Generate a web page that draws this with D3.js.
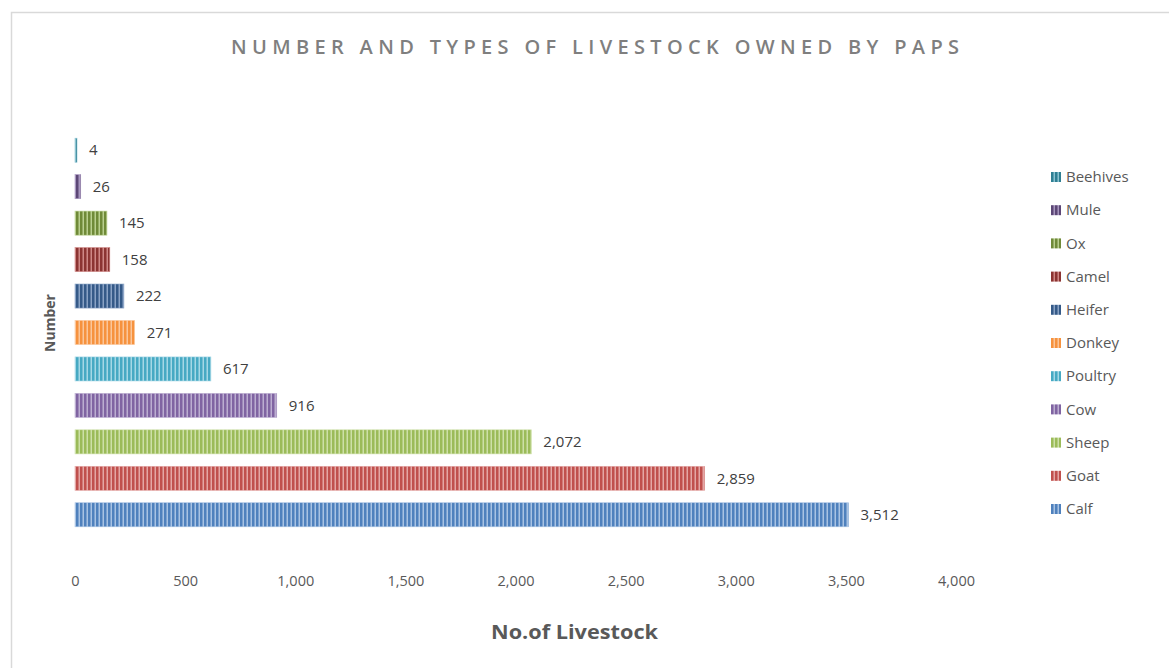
<!DOCTYPE html>
<html>
<head>
<meta charset="utf-8">
<script src="https://cdn.jsdelivr.net/npm/d3@7"></script>
<style>
  html, body { margin: 0; padding: 0; background: #fff; }
  svg { display: block; }
</style>
</head>
<body>
<svg id="chart" width="1169" height="668"></svg>
<script>
// Livestock counts, listed top to bottom as drawn
const categories = ["Beehives", "Mule", "Ox", "Camel", "Heifer", "Donkey", "Poultry", "Cow", "Sheep", "Goat", "Calf"];
const counts = [4, 26, 145, 158, 222, 271, 617, 916, 2072, 2859, 3512];
const xTicks = [0, 500, 1000, 1500, 2000, 2500, 3000, 3500, 4000];
// dark stripe / light stripe colour per category
const darkColors = ["#2f7f93", "#5c4776", "#6f8a38", "#8c3432", "#355a88", "#f6923e", "#46a9c3", "#8064a2", "#9bbb59", "#c0504d", "#4f81bd"];
const lightColors = ["#8cc3d1", "#a897bf", "#b9cf8f", "#cf8886", "#8aa3c5", "#fbc69a", "#a5d8e6", "#bcaed1", "#cde0a8", "#e4a7a5", "#a9c3e3"];

const svg = d3.select("#chart");
const font = "'Open Sans', 'Liberation Sans', sans-serif";

// chart area frame
svg.append("rect")
  .attr("x", 11.5).attr("y", 12.5)
  .attr("width", 1170).attr("height", 670)
  .attr("fill", "#fff").attr("stroke", "#d9d9d9").attr("stroke-width", 1.5);

// striped fills
const defs = svg.append("defs");
categories.forEach((c, i) => {
  const p = defs.append("pattern")
    .attr("id", "stripe" + i)
    .attr("patternUnits", "userSpaceOnUse")
    .attr("width", 4).attr("height", 4);
  p.append("rect").attr("width", 4).attr("height", 4).attr("fill", lightColors[i]);
  p.append("rect").attr("width", 2.5).attr("height", 4).attr("fill", darkColors[i]);
});

const x = d3.scaleLinear().domain([0, 4000]).range([75, 956]);
const y = d3.scaleBand().domain(categories).range([132, 533]).paddingInner(0.34).paddingOuter(0.17);

// title
svg.append("text")
  .attr("x", 231).attr("y", 54)
  .attr("font-family", font)
  .attr("font-size", 20)
  .attr("font-weight", 600)
  .attr("textLength", 728)
  .attr("lengthAdjust", "spacing")
  .attr("fill", "#7f7f7f")
  .text("NUMBER AND TYPES OF LIVESTOCK OWNED BY PAPS");

// bars
svg.append("g").selectAll("rect")
  .data(categories)
  .join("rect")
  .attr("x", x(0))
  .attr("y", d => y(d))
  .attr("width", (d, i) => Math.max(2, x(counts[i]) - x(0)))
  .attr("height", y.bandwidth())
  .attr("fill", (d, i) => `url(#stripe${i})`)
  .attr("stroke", (d, i) => lightColors[i])
  .attr("stroke-width", 0.6);

// value labels
svg.append("g").selectAll("text")
  .data(categories)
  .join("text")
  .attr("x", (d, i) => Math.max(x(counts[i]), x(0) + 2) + 12)
  .attr("y", d => y(d) + y.bandwidth() / 2)
  .attr("dy", "0.35em")
  .attr("font-family", font)
  .attr("font-size", 15)
  .attr("fill", "#404040")
  .text((d, i) => d3.format(",")(counts[i]));

// x axis tick labels
const xAxis = d3.axisBottom(x).tickValues(xTicks).tickFormat(d3.format(",")).tickSize(0).tickPadding(0);
const gx = svg.append("g").attr("transform", "translate(0,572)").call(xAxis);
gx.select(".domain").remove();
gx.selectAll("text")
  .attr("font-family", font)
  .attr("font-size", 14.5)
  .attr("fill", "#595959")
  .attr("dy", "0.35em")
  .attr("y", 9);

// axis titles
svg.append("text")
  .attr("x", 491).attr("y", 639)
  .attr("font-family", font)
  .attr("font-weight", "bold")
  .attr("font-size", 19)
  .attr("textLength", 167)
  .attr("lengthAdjust", "spacingAndGlyphs")
  .attr("fill", "#595959")
  .text("No.of Livestock");

svg.append("text")
  .attr("transform", "translate(55,323) rotate(-90)")
  .attr("text-anchor", "middle")
  .attr("font-family", font)
  .attr("font-weight", "bold")
  .attr("font-size", 14)
  .attr("fill", "#595959")
  .text("Number");

// legend
const legend = svg.append("g").selectAll("g")
  .data(categories)
  .join("g")
  .attr("transform", (d, i) => `translate(1051,${177 + i * 33.2})`);
legend.append("rect")
  .attr("x", 0).attr("y", -5)
  .attr("width", 10).attr("height", 10)
  .attr("fill", (d, i) => `url(#stripe${i})`);
legend.append("text")
  .attr("x", 15).attr("y", 0)
  .attr("dy", "0.35em")
  .attr("font-family", font)
  .attr("font-size", 15)
  .attr("fill", "#595959")
  .text(d => d);
</script>
</body>
</html>
